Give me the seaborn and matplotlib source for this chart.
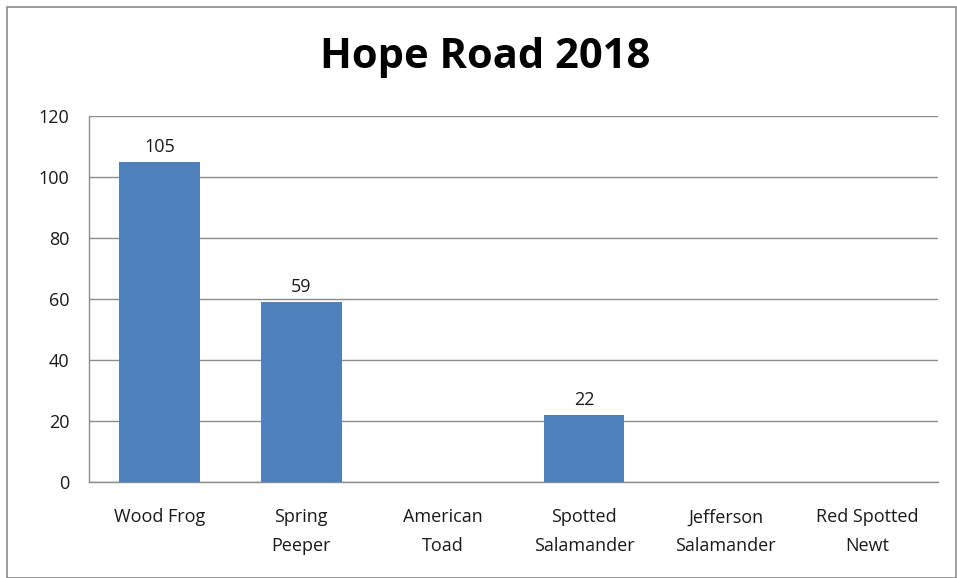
import matplotlib
matplotlib.use("Agg")
import matplotlib.pyplot as plt
import seaborn as sns
import pandas as pd

species = ["Wood Frog", "Spring\nPeeper", "American\nToad", "Spotted\nSalamander",
           "Jefferson\nSalamander", "Red Spotted\nNewt"]
counts = [105, 59, 0, 22, 0, 0]
title = "Hope Road 2018"

sns.set_style("white")
plt.rcParams["font.family"] = ["Open Sans", "DejaVu Sans"]

df = pd.DataFrame({"species": species, "count": counts})

fig = plt.figure(figsize=(9.57, 5.78), dpi=100)
ax = fig.add_axes([0.093, 0.166, 0.887, 0.633])
sns.barplot(data=df, x="species", y="count", color="#4F81BD", saturation=1,
            width=0.57, linewidth=0, ax=ax, zorder=3)

ax.set_ylim(0, 120)
ax.set_yticks(range(0, 121, 20))
ax.yaxis.grid(True, color="#8c8c8c", linewidth=1, zorder=0)
ax.set_xlabel("")
ax.set_ylabel("")
for side in ["top", "right"]:
    ax.spines[side].set_visible(False)
for side in ["left", "bottom"]:
    ax.spines[side].set_color("#8c8c8c")
    ax.spines[side].set_linewidth(1)
ax.tick_params(axis="both", length=0, labelsize=13, colors="#1a1a1a")
ax.tick_params(axis="y", pad=14)
ax.tick_params(axis="x", pad=19)
for lbl in ax.get_xticklabels():
    lbl.set_linespacing(1.75)

for i, v in enumerate(counts):
    if v > 0:
        ax.text(i, v + 2, str(v), ha="center", va="bottom", fontsize=13, color="#1a1a1a")

fig.text(0.507, 0.901, title, ha="center", va="center", fontsize=30,
         fontweight="bold", color="black")

# chart border
border = plt.Rectangle((0.007, 0.0), 0.992, 0.988, transform=fig.transFigure,
                       fill=False, edgecolor="#8c8c8c", linewidth=1.2)
fig.patches.append(border)

fig.savefig("out.png", dpi=100)
